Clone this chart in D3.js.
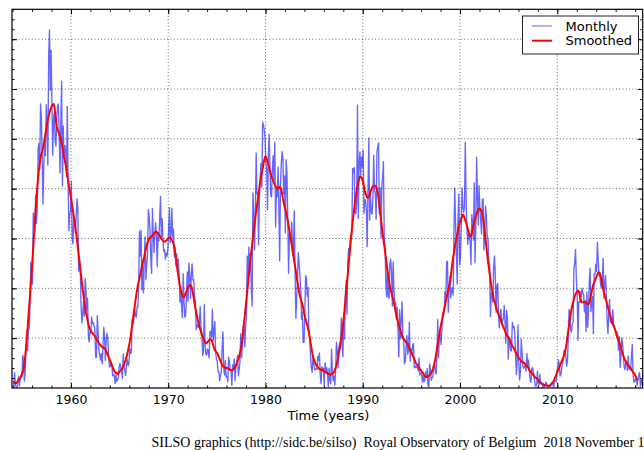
<!DOCTYPE html>
<html><head><meta charset="utf-8">
<script src="https://cdn.jsdelivr.net/npm/d3@7"></script>
<style>
html,body{margin:0;padding:0;background:#fff;}
svg{display:block;}
</style></head>
<body>
<svg id="c" width="644" height="450"></svg>
<script>
// Monthly mean total sunspot number (SILSO V2), Jan 1954 .. Oct 2018
const monthlyStart = 1954;
const monthlySN = [
0.3,0.7,15.4,2.5,1.1,0.3,6.8,11.9,2.1,9.9,13,10.8,
32.7,29.5,6.9,16,40.9,44.9,37.8,57.6,60.5,82.8,126.3,108.9,
104.2,175.6,167.7,156.8,193.4,165.1,182.8,240.2,245.3,219.9,285,272,
233.7,184.4,222.9,248.1,233.1,284.2,265.1,223.7,333.9,359.4,298.7,339,
286.8,233.5,270,277.5,248.2,242.8,271,283.5,284.9,257,215.7,265.6,
307.8,202.6,262.9,231.2,243.5,238.9,211.8,282.6,205.6,157.7,175.6,177,
207.2,150.1,144.7,172.8,169.4,156,172.3,189.9,180.1,117.2,126.9,121.2,
82,65.3,75,86.9,72.2,109.6,99.4,79,90.1,53.4,46.2,56.5,
54.8,71.2,64.6,65.7,61.9,59.5,30.9,30.9,72.6,55.9,38.1,32.9,
28,34.6,24.2,41.5,60.9,50.8,27.8,47,54.9,50,33.1,21.1,
21.7,25.1,23.4,12.2,13.5,12.9,4.4,13.2,6.7,8.6,10.5,21.4,
24.8,20.1,16.6,9.6,34.1,22.5,16.9,12.6,23.8,28.5,22.4,24.1,
39.9,34.6,35.8,69,64.1,67.5,80.3,72.5,71.1,81,81,99.7,
157,132.5,158.3,98.4,122.5,95.3,129.6,151.8,108.7,124.9,133.5,179,
172.5,158.5,130.6,115,180.1,156.2,136.1,154.8,166,152.5,121.8,155.5,
147.8,170.6,192.3,151.2,169.9,150.1,137.1,138.8,129.3,135.5,132.4,138.6,
157.9,181,145.7,155.1,180.5,151.2,159.3,131.7,140.9,122.6,134.8,118.2,
129.3,111.9,86,101.7,81.4,70.5,114.7,86.9,71.1,73.2,89.5,116.4,
87.1,125.2,113.4,89.5,114,124.6,108.3,108.7,90.6,86.8,58.9,64.1,
61.5,60.7,65.1,81.7,60,55.9,32.7,36.2,84,43.5,33.8,33,
39.1,36.8,30.2,57.1,55.9,51,79,47.6,56.9,66.7,35.4,29,
26.8,16.3,16.3,7.2,12.7,16.1,39.9,56.2,19.7,12.9,27.5,11,
11.5,6.1,31,26.6,17.6,17.3,2.7,23.2,19.1,29.2,7.4,21.7,
23.2,32.7,12.3,18.3,26.3,54.5,30.3,42.6,62.3,62,41.2,61.2,
73.5,132.5,108.3,141.2,117.1,134.7,99.7,82.3,195.7,177.1,138.6,173.7,
235.9,194.7,195.4,143.7,190.3,211.7,225.7,201.4,266.8,263.7,259.6,249.6,
226,219.5,178.7,232.4,254.7,222.7,193,191.7,219.5,233.2,209.4,247,
161.5,200.2,192,221.6,180.7,127.5,203.8,224.9,237.1,230.1,194.8,212.7,
155.7,229,215.3,170.8,115.1,154.6,148.5,150.6,166.3,132.6,137.3,177.8,
115.5,69.9,91.1,110.6,135.9,124.8,112.6,98.4,68.9,76.4,45.6,45.8,
75.2,112.7,110.2,92,100.8,60.9,49.4,33.7,20.7,15.8,30.1,24.7,
19,18.3,19.8,18.6,31.6,27.8,35.3,12.8,4.5,21.4,18.6,19.9,
2.8,25.5,16.6,20.4,15.1,1.2,19.9,8.1,4.2,38.9,16.7,7.5,
12.1,2.8,17.1,45.9,38.3,20.2,38.3,44.9,39.3,70.3,46.3,31.4,
72.6,49.2,93.7,108.2,73.9,125.2,140,137.3,147.7,153.9,153.9,220.4,
216.1,221.2,176.1,175,185.6,284,170,226.3,236.8,213.6,231.8,221.8,
238.5,175.5,188.7,188.7,177.8,141.8,200.9,251,168.4,195.7,176.7,174.4,
191,233.7,197.9,195.3,169.2,236.7,242.3,245.9,174.8,201,150.9,201.4,
211.5,227.2,150.4,140.7,104.1,91.9,120.8,90.9,90.1,125.1,129.4,116.5,
82.4,126.5,97,86.5,85.2,69.2,80.5,58.7,31.1,78.4,49.5,68,
86.7,53.3,47.6,24.2,26.7,42,52.7,33.8,38.6,66,27,39.3,
34.6,42.8,44.5,20,20.7,22.3,20.7,20.4,16.9,30.2,12.9,14.3,
15.5,5.9,12.4,6.5,7.4,15.9,11.1,19.4,2.2,1.2,24.2,18,
7.6,10.2,11.7,20.8,24.8,17,13.9,32.7,68.7,30.6,52.3,55.2,
43.7,55.2,75.1,73.2,77.1,96.9,91.2,126.3,127.3,76,101.4,112.2,
90.5,96.8,100.6,93.3,155.3,200.6,165.7,136.8,104.4,170.4,194.5,123.5,
130.6,163.7,200.8,182,176.3,181.1,246.6,189.2,159.1,144.1,154.9,151.4,
146.7,123.7,174.2,165.3,148.3,205.7,125.6,163.3,231.3,192.6,163.5,202.9,
179.1,168.6,154.5,189.5,189.7,138.6,156.4,182.7,172.1,153.1,149.9,126.9,
124.3,71.8,95.3,93.6,86.1,120.7,132.6,113.4,76.1,102.3,104.8,72.5,
60.3,74.5,79.2,63.7,67.2,70,82.8,66.3,44.9,77.8,70.5,29,
48.2,45,37.7,37.3,65.8,60.5,61.8,56.1,33.7,13.4,27.7,63.3,
24.8,7.9,17.2,48.9,36.1,22.5,19.8,20.9,23.3,17,34.7,22,
28.2,18,7.6,5.7,19.7,20.3,16.3,10.1,4,1.5,2.9,17,
4.8,3,13.5,4.2,4.6,4.9,0.7,0.7,1.6,4.2,5.9,1.2,
2.3,2.2,1.1,1.2,4.5,4.5,5,0,6.5,7.1,6.5,16.4,
19.8,28.1,23.3,11.9,13.3,20.4,24.3,29.6,38.1,35.5,32.6,21.9,
27.3,48.3,78.6,76.1,58.2,56.1,64.5,65.8,120.1,125.7,139.1,109.3,
94.4,47.8,86.6,85.9,96.5,92,100.1,94.8,93.7,76.5,87.6,56.8,
96.1,60.9,78.3,107.3,120.2,76.7,86.2,91.8,54.5,114.4,113.9,124.2,
117,146.1,128.7,112.5,112.5,102.9,100.2,106.9,130,90,103.6,112.9,
93,66.7,54.5,75.3,88.8,66.5,65.8,64.4,78.6,63.6,62.2,58,
57,56.4,54.1,37.9,51.5,20.5,32.4,50.2,44.6,33.4,21.4,18.5,
26.1,26.4,17.7,32.3,18.9,19.2,17.8,32.6,43.7,13.2,5.7,8.2,
6.8,10.7,2.5,8.9,13.1,15.6,1.6,8.7,3.3,4.9
];

// 13-month smoothed total sunspot number, Jan 1954 .. Apr 2018
const smoothedStart = 1954;
const smoothedSN = [
6,6,5,5,5,6,7,8,9,10,12,14,
16,19,24,31,40,50,60,71,82,93,104,116,
128,141,154,167,180,192,202,211,219,226,231,235,
237,241,245,250,255,260,265,269,273,276,279,281,
283,284,285,283,276,268,262,259,257,255,253,250,
246,242,237,232,228,224,219,214,208,203,198,193,
188,183,178,172,167,161,155,148,141,134,127,120,
113,106,99,93,87,81,76,72,68,64,61,59,
57,56,55,54,53,52,51,49,47,46,45,44,
43,42,41,41,40,40,39,37,35,33,31,29,
27,25,23,21,19,17,16,15,15,14,15,16,
17,18,19,20,22,24,26,28,31,34,38,42,
46,51,57,63,69,75,81,87,93,98,103,107,
110,114,118,122,126,129,132,136,140,143,146,148,
150,151,152,152,153,154,155,156,157,157,156,155,
154,153,151,150,149,148,147,147,147,148,149,150,
150,151,151,150,149,147,145,141,136,130,124,118,
112,107,102,98,95,92,91,91,93,95,97,99,
101,102,103,103,102,99,95,90,85,80,76,72,
68,65,62,59,56,53,51,49,47,46,45,45,
46,47,48,49,49,48,46,43,40,38,37,36,
35,33,31,29,27,25,23,22,21,21,20,20,
20,20,19,19,18,18,18,18,19,20,21,23,
25,27,29,32,35,39,44,50,57,65,73,81,
89,97,105,113,121,129,137,144,151,158,165,171,
177,183,189,195,201,207,212,216,220,225,229,232,
232,230,227,224,221,218,215,212,210,208,206,204,
202,201,200,200,201,202,201,199,195,190,186,182,
179,176,172,168,163,158,153,148,143,138,133,127,
122,117,111,106,101,96,92,89,87,84,80,76,
72,69,66,63,60,56,51,46,41,36,32,29,
27,25,23,22,21,20,19,19,18,18,18,17,
17,16,16,15,15,14,14,14,13.5,14,14,15,
16,18,20,23,26,30,35,40,45,50,56,63,
70,78,87,96,105,114,123,132,141,150,158,166,
173,180,187,193,198,203,207,210,212,212,211,209,
206,202,198,195,193,191,191,192,194,197,199,201,
202,203,203,203,202,200,196,190,183,176,169,162,
155,149,143,137,131,124,118,112,107,102,98,95,
92,89,85,81,77,73,69,66,63,60,58,55,
52,50,49,48,47,46,45,44,42,40,38,36,
35,33,31,29,27,25,24,23,22,20,19,18,
17,16,15,13,12,11,11,11,12,12,13,14,
15,17,19,22,25,29,34,39,44,49,54,59,
63,67,71,75,79,83,87,91,95,99,102,105,
110,118,125,131,136,141,146,150,154,158,162,165,
168,170,172,174,173,171,168,166,163,160,157,154,
152,152,155,159,163,166,169,172,175,177,179,180,
180,179,177,174,170,165,158,150,142,134,127,121,
115,109,103,98,94,90,87,84,81,78,76,74,
72,70,68,65,63,61,59,57,55,53,52,51,
50,48,46,44,42,41,40,38,36,35,33,31,
30,29,28,27,26,26,25,25,24,23,22,21,
20,18,17,16,15,14,13,12,11,10,10,9,
8,7,6,5,5,4,4,3,3,3,2.5,2.3,
2.2,2.3,2.5,3,4,5,6,7,9,11,13,15,
17,19,21,23,25,27,29,31,33,36,40,45,
51,57,63,69,74,79,83,86,89,92,94,96,
97,98,97,94,90,87,86,86,86,86,86,86,
85,84,84,86,89,93,97,101,104,106,108,110,
112,114,116,116,115,112,108,104,100,96,93,90,
87,84,81,78,75,72,69,66,64,62,60,58,
55,52,50,48,46,43,40,37,34,32,30,28,
27,25,24,23,22,21,20,19,17,16,15,14,
12,10,9,8
];

const xMajorTicks = [1960, 1970, 1980, 1990, 2000, 2010];
const xMinorTicks = d3.range(1954, 2019, 2);
const yMajorTicks = [50, 100, 150, 200, 250, 300, 350];
const yMinorTicks = d3.range(10, 380, 10);
const seriesNames = ["Monthly", "Smoothed"];
const xTitle = "Time (years)";
const footer = "SILSO graphics (http://sidc.be/silso)  Royal Observatory of Belgium  2018 November 1";

const L = 12, R = 642.7, T = 9.3, B = 388;
const x = d3.scaleLinear().domain([1953.94, 2018.78]).range([L, R]);
const y = d3.scaleLinear().domain([0, 380]).range([B, T]);

const svg = d3.select("#c");
svg.append("defs").append("clipPath").attr("id","clip")
  .append("rect").attr("x",L).attr("y",T).attr("width",R-L).attr("height",B-T);

// grid
const grid = svg.append("g");
grid.selectAll("line.gx").data(xMajorTicks).join("line")
  .attr("x1",d=>x(d)).attr("x2",d=>x(d)).attr("y1",T).attr("y2",B)
  .attr("stroke","#555").attr("stroke-width",0.9).attr("stroke-dasharray","1,2.3");
grid.selectAll("line.gy").data(yMajorTicks).join("line")
  .attr("x1",L).attr("x2",R).attr("y1",d=>y(d)).attr("y2",d=>y(d))
  .attr("stroke","#555").attr("stroke-width",0.9).attr("stroke-dasharray","1,2.3");

const mData = monthlySN.map((v,i)=>[monthlyStart + (i+0.5)/12, v]);
const sData = smoothedSN.map((v,i)=>[smoothedStart + (i+0.5)/12, v]);
const line = d3.line().x(d=>x(d[0])).y(d=>y(d[1]));

const plot = svg.append("g").attr("clip-path","url(#clip)");
plot.append("path").datum(mData).attr("d",line)
  .attr("fill","none").attr("stroke","#0000ff").attr("stroke-opacity",0.6).attr("stroke-width",1.35)
  .attr("stroke-linejoin","round");
plot.append("path").datum(sData).attr("d",line)
  .attr("fill","none").attr("stroke","#ff0000").attr("stroke-width",2).attr("stroke-linejoin","round");

// axes (inward ticks on all sides)
const font = "DejaVu Sans, sans-serif";
function styleAxis(g){ g.select(".domain").remove(); g.selectAll(".tick line").attr("stroke","#000").attr("stroke-width",1); }

svg.append("g").attr("transform",`translate(0,${B})`)
  .call(d3.axisBottom(x).tickValues(xMinorTicks).tickSize(-2.5).tickFormat(""))
  .call(styleAxis);
const xb = svg.append("g").attr("transform",`translate(0,${B})`)
  .call(d3.axisBottom(x).tickValues(xMajorTicks).tickSize(-5).tickPadding(7).tickFormat(d3.format("d")))
  .call(styleAxis);
xb.selectAll("text").attr("font-family",font).attr("font-size",12.5).attr("fill","#000");

svg.append("g").attr("transform",`translate(0,${T})`)
  .call(d3.axisTop(x).tickValues(xMinorTicks).tickSize(-2.5).tickFormat(""))
  .call(styleAxis);
svg.append("g").attr("transform",`translate(0,${T})`)
  .call(d3.axisTop(x).tickValues(xMajorTicks).tickSize(-5).tickFormat(""))
  .call(styleAxis);

svg.append("g").attr("transform",`translate(${L},0)`)
  .call(d3.axisLeft(y).tickValues(yMinorTicks).tickSize(-2.5).tickFormat(""))
  .call(styleAxis);
svg.append("g").attr("transform",`translate(${L},0)`)
  .call(d3.axisLeft(y).tickValues(yMajorTicks).tickSize(-5).tickFormat(""))
  .call(styleAxis);
svg.append("g").attr("transform",`translate(${R},0)`)
  .call(d3.axisRight(y).tickValues(yMinorTicks).tickSize(-2.5).tickFormat(""))
  .call(styleAxis);
svg.append("g").attr("transform",`translate(${R},0)`)
  .call(d3.axisRight(y).tickValues(yMajorTicks).tickSize(-5).tickFormat(""))
  .call(styleAxis);

// frame
svg.append("rect").attr("x",L).attr("y",T).attr("width",R-L).attr("height",B-T)
  .attr("fill","none").attr("stroke","#000").attr("stroke-width",1.2);

// x title
svg.append("text").attr("x",(L+R)/2+1).attr("y",419.5).attr("text-anchor","middle")
  .attr("font-family",font).attr("font-size",13).attr("fill","#000").text(xTitle);

// footer
svg.append("text").attr("x",151.5).attr("y",447).attr("font-family","Liberation Serif, serif")
  .attr("font-size",14).attr("fill","#000").attr("xml:space","preserve").style("white-space","pre").text(footer);

// legend
const lg = svg.append("g");
lg.append("rect").attr("x",522.5).attr("y",16).attr("width",116).attr("height",38)
  .attr("fill","#fff").attr("stroke","#222").attr("stroke-width",1);
const legColors = [{c:"#0000ff",o:0.6,w:1},{c:"#ff0000",o:1,w:2}];
seriesNames.forEach((n,i)=>{
  const yy = 26 + i*14.7;
  lg.append("line").attr("x1",532).attr("x2",552).attr("y1",yy).attr("y2",yy)
    .attr("stroke",legColors[i].c).attr("stroke-opacity",legColors[i].o).attr("stroke-width",legColors[i].w);
  lg.append("text").attr("x",565.5).attr("y",yy+4.6).attr("font-family",font).attr("font-size",13)
    .attr("fill","#000").text(n);
});
</script>
</body></html>
